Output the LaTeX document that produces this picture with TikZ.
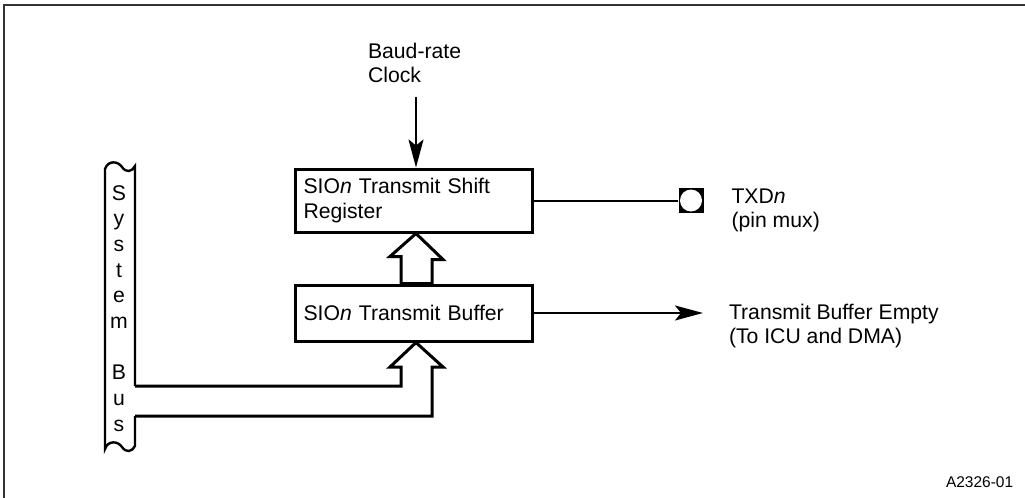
\documentclass[tikz,border=0pt]{standalone}
\usepackage{fontspec}
\setmainfont{Liberation Sans}
\usetikzlibrary{
  arrows.meta, % Stealth 箭头样式
  calc,        % 坐标计算
  positioning  % 节点相对定位
}

\begin{document}
\begin{tikzpicture}[x=0.5pt, y=-0.5pt, >={Stealth[length=14pt, width=7.5pt, inset=3pt]}, line width=1pt] % 单位取 0.5pt 且 y 轴向下，方便按原图的像素位置摆放
  \tikzset{
    regbox/.style={draw, line width=1.5pt, minimum width=118.5pt, minimum height=31.5pt, inner xsep=4.25pt, text width=110pt, align=left, font=\fontsize{10.6}{12.5}\selectfont}, % 寄存器方框，文字靠左
    sig/.style={line width=1pt},      % 普通信号线
    hollow/.style={line width=1.5pt}, % 空心的总线箭头
    busline/.style={line width=1.2pt},% 系统总线两条边
    frame/.style={line width=1pt, black!80}, % 外框
    lbl/.style={inner sep=0pt, align=left, font=\fontsize{10.6}{12}\selectfont}, % 外部标注文字
    bustxt/.style={anchor=base, inner sep=0pt, font=\fontsize{10.6}{12}\selectfont}, % 总线上竖排的字母
    pinbox/.style={fill=black, minimum size=12.5pt, inner sep=0pt} % 引脚小方块
  }
  \useasboundingbox (0,0) rectangle (1025,498); % 固定整幅图的大小

  % 外框（只看得到上边和左边）
  \draw[frame] (4,498) -- (4,5) -- (1025,5);

  % 两个寄存器
  \node[regbox] (reg) at (413.5,200.5) {SIO\textit{n} Transmit Shift\\Register}; % 移位寄存器
  \node[regbox, minimum height=28pt, below=25pt of reg] (buf) {SIO\textit{n} Transmit Buffer}; % 发送缓冲器，比上面的矮一些
  \coordinate (ax) at (416,0); % 竖向箭头所在的 x

  % 波特率时钟
  \node[lbl, anchor=west] (clk) at (367,63) {Baud-rate\\Clock};
  \draw[sig, ->] ($(clk.south -| ax)+(0,13)$) -- (reg.north -| ax);

  % 引脚 TXDn
  \node[pinbox, right=72pt of reg] (pin) {};
  \fill[white] (pin.center) circle (5.5pt); % 方块里的白色圆
  \draw[sig] (reg.east) -- (pin.west);
  \node[lbl, right=13pt of pin, yshift=-5pt] (txd) {TXD\textit{n}\\(pin mux)};

  % 缓冲器空信号
  \coordinate (endx) at (703,0);
  \draw[sig, ->] (buf.east) -- (buf.east -| endx) coordinate (bufend);
  \node[lbl, right=12.5pt of bufend, yshift=-6.75pt] (tbe) {Transmit Buffer Empty\\(To ICU and DMA)};

  % 缓冲器到移位寄存器的空心箭头
  \draw[hollow] (reg.south -| ax) -- ++(27,26) -- ++(-11,0) coordinate (r1) -- (r1 |- buf.north) -- ++(-31,0) -- ++(0,-27) -- ++(-11,0) -- cycle;

  % 系统总线
  \coordinate (busR1) at (135,386); % 上支路出口
  \coordinate (busR2) at (135,416); % 下支路出口
  \draw[hollow] (busR1) -- (401,386) -- (401,367) -- (390,367) -- (buf.south -| ax) -- (443,367) -- (432,367) -- (432,416) -- (busR2); % 总线到缓冲器的空心箭头
  \draw[busline] (busR1) -- (135,166) .. controls (132,172) and (126,173) .. (122,167) .. controls (118,161) and (108,160) .. (105,169) -- (105,449) .. controls (108,440) and (118,441) .. (122,447) .. controls (126,453) and (132,452) .. (135,446) -- (busR2); % 总线外形，上下两端是波浪
  \foreach \ch [count=\k] in {S,y,s,t,e,m,{},B,u,s}
    \node[bustxt] (bus\k) at (119,{200+25.7*(\k-1)}) {\ch}; % 竖排 System Bus

  % 图号
  \node[anchor=base west, inner sep=0pt, font=\fontsize{7.75}{9}\selectfont] (fig) at (945,487) {A2326-01};
\end{tikzpicture}
\end{document}
